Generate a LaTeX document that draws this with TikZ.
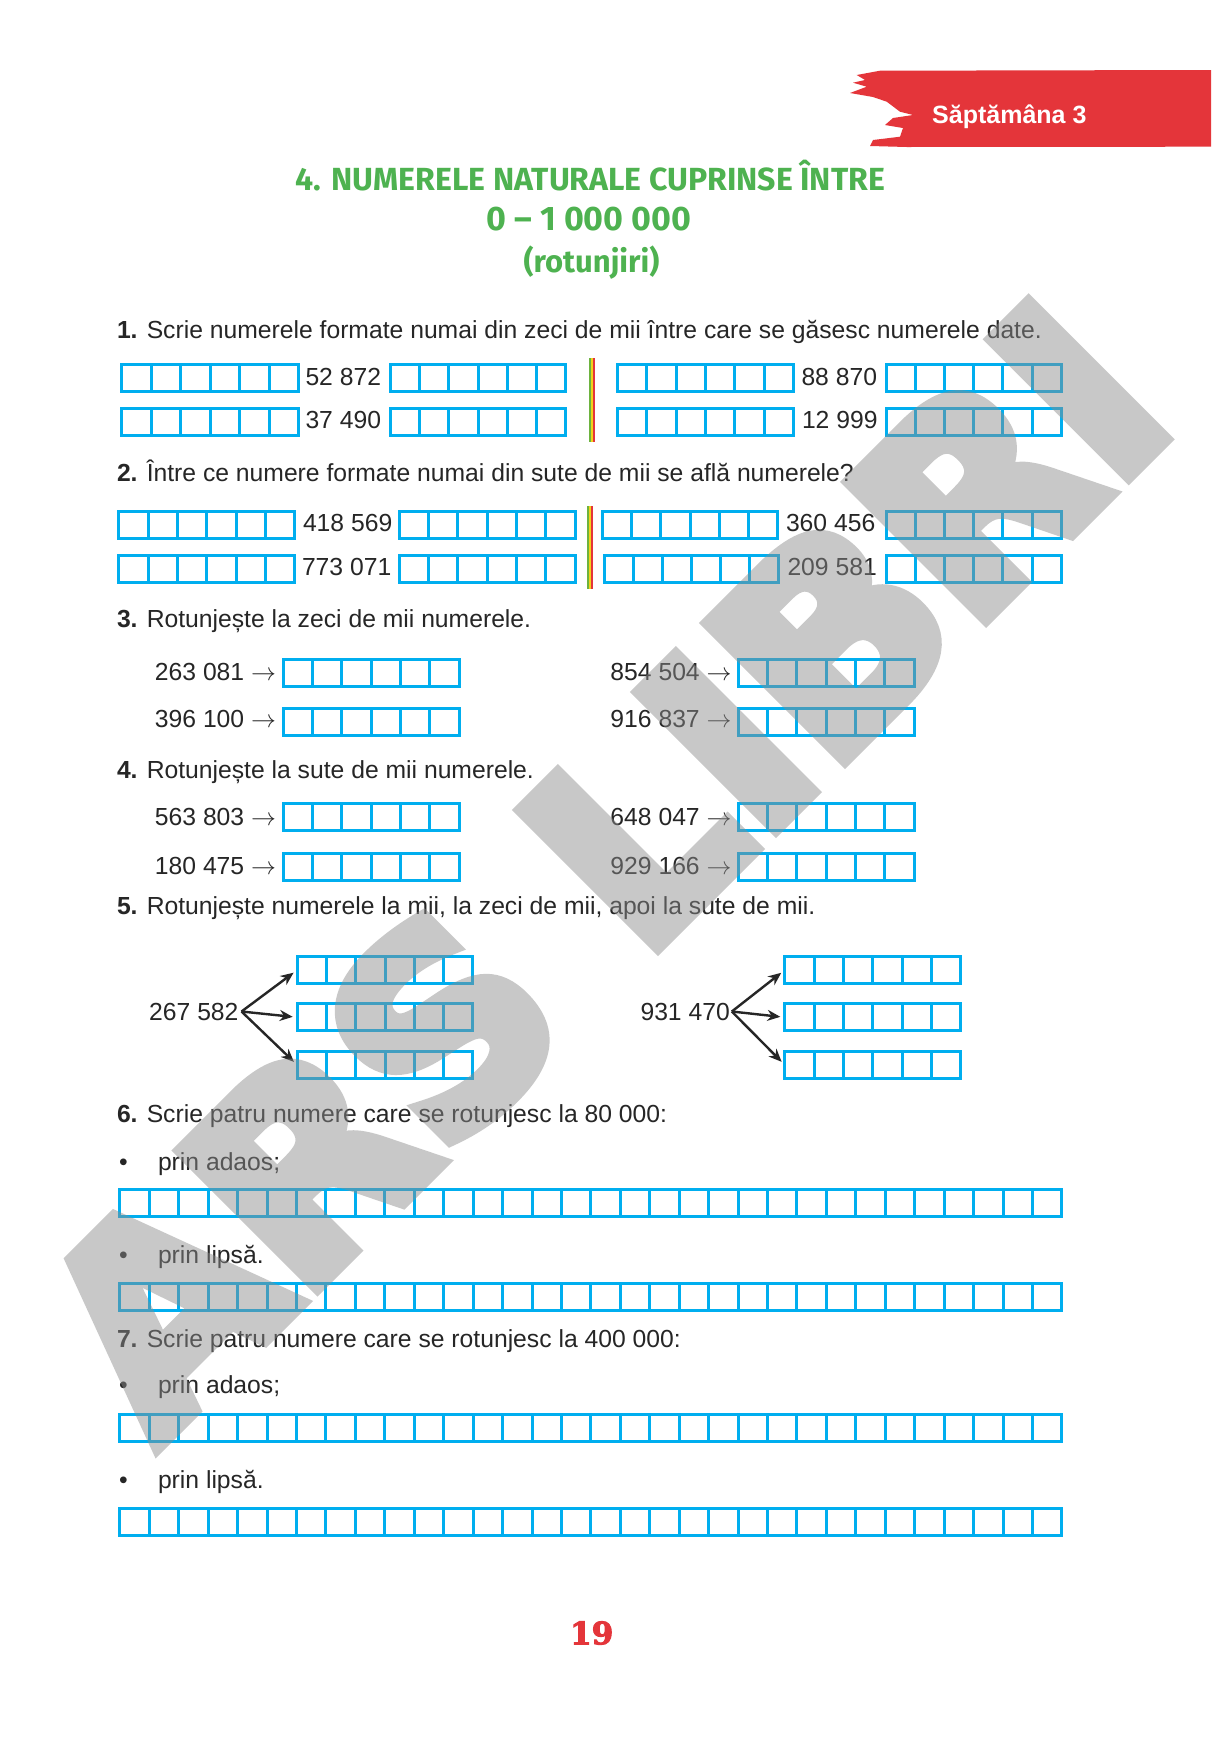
\documentclass[tikz,border=0pt]{standalone}
\usepackage{fontspec}
\setmainfont{Liberation Sans}
\newfontfamily\titlefont{Fira Sans}
\newfontfamily\wmfont{DejaVu Sans Bold}[FakeBold=6]
\newfontfamily\pgfont{DejaVu Serif Bold}[FakeBold=3]
\usetikzlibrary{arrows.meta}
\definecolor{ink}{HTML}{262626}
\definecolor{boxblue}{HTML}{00AEEF}
\definecolor{bannerred}{HTML}{E4353A}
\definecolor{titlegreen}{RGB}{78,178,80}
\definecolor{sepgreen}{HTML}{6DB33F}
\definecolor{sepyellow}{HTML}{F2D21B}
\definecolor{wmgray}{RGB}{140,140,140}
\newcommand\cellrow[5]{\node[cells={#4}{#5}, anchor=north west] (#1) at ({#2+1.5},{#3+1.5}) {};}
\newcommand\sepbar[3]{% x, ytop, ybottom
  \fill[sepgreen] (#1,#2) rectangle ({#1+2},#3);
  \fill[sepyellow] ({#1+2},#2) rectangle ({#1+4},#3);
  \fill[bannerred] ({#1+4},#2) rectangle ({#1+6},#3);}
\begin{document}
\begin{tikzpicture}[x=1pt,y=-1pt,
  txt/.style={font=\fontsize{24.7}{29}\selectfont, text=ink, inner sep=0pt, outer sep=0pt, anchor=base west},
  txtr/.style={txt, anchor=base east},
  cells/.style 2 args={draw=boxblue, line width=3pt, inner sep=0pt, outer sep=0pt,
    minimum height=27pt, minimum width={#2-3},
    path picture={\pgfmathsetmacro\cw{(#2-3)/#1}
      \foreach \k in {2,...,#1}{\draw[boxblue,line width=3pt]
        ([xshift={(\k-1)*\cw}]path picture bounding box.north west) --
        ([xshift={(\k-1)*\cw}]path picture bounding box.south west);}}},
  arr/.style={draw=ink, line width=2.4pt, -{Stealth[length=13pt,width=11pt]}, shorten >=4.5pt},
  titletxt/.style={text=titlegreen, inner sep=0pt, anchor=base},
  bullet/.style={txt}]
\useasboundingbox (0,0) rectangle (1211,1754);
\fill[white] (0,0) rectangle (1211,1754);

% banner
\fill[bannerred] (1211,70) -- (880,70.7) -- (856.7,75) -- (865,80) -- (853,82.7) -- (866.7,86.7)
  -- (850,93) -- (873,97) -- (886.7,101.7) -- (900,111.7) -- (913,115) -- (893,118) -- (885,125)
  -- (903,128) -- (900,136.7) -- (873,140) -- (870,146) -- (906.7,147) -- (1211,146.7) -- cycle;
\node[anchor=base west, inner sep=0pt, text=white, font=\bfseries\fontsize{25}{30}\selectfont] (week) at (932,123) {Săptămâna 3};

% title
\node[titletxt, font=\titlefont\bfseries\fontsize{32}{36}\selectfont] (t1) at (590.4,190) {4. NUMERELE NATURALE CUPRINSE ÎNTRE};
\node[titletxt, font=\titlefont\bfseries\fontsize{34}{40}\selectfont] (t2) at (589,230) {0 – 1 000 000};
\node[titletxt, font=\titlefont\bfseries\fontsize{31}{36}\selectfont] (t3) at (591.5,272) {(rotunjiri)};

% section 1
\node[txt] (h1) at (117,338.5) {\textbf{1.} Scrie numerele formate numai din zeci de mii între care se găsesc numerele date.};
\cellrow{a1}{120}{362.7}{6}{180}
\node[txt] (na) at (305.5,385) {52 872};
\cellrow{a2}{389}{362.7}{6}{178}
\cellrow{a3}{616}{362.7}{6}{179}
\node[txt] (nb) at (801.5,385) {88 870};
\cellrow{a4}{884.6}{362.7}{6}{178.3}
\cellrow{b1}{120}{406.7}{6}{180}
\node[txt] (nc) at (305.5,428) {37 490};
\cellrow{b2}{389}{406.7}{6}{178}
\cellrow{b3}{616}{406.7}{6}{179}
\node[txt] (nd) at (802,428) {12 999};
\cellrow{b4}{884.6}{406.7}{6}{178.3}
\sepbar{589}{358}{442}

% section 2
\node[txt] (h2) at (117,481.7) {\textbf{2.} Între ce numere formate numai din sute de mii se află numerele?};
\cellrow{c1}{117.2}{510}{6}{179}
\node[txt] (ne) at (303,531.7) {418 569};
\cellrow{c2}{397.7}{510}{6}{178.8}
\cellrow{c3}{601}{510}{6}{178}
\node[txt] (nf) at (786,531.7) {360 456};
\cellrow{c4}{884.6}{510}{6}{178.3}
\cellrow{d1}{117.2}{554}{6}{179}
\node[txt] (ng) at (302,575.7) {773 071};
\cellrow{d2}{397.7}{554}{6}{178.8}
\cellrow{d3}{603}{554}{6}{177.4}
\node[txt] (nh) at (787.5,575.7) {209 581};
\cellrow{d4}{884.6}{554}{6}{178.3}
\sepbar{587}{506}{589}

% section 3
\node[txt] (h3) at (117,627.3) {\textbf{3.} Rotunjește la zeci de mii numerele.};
\node[txtr] (ni) at (276,680) {263 081 $\rightarrow$};
\cellrow{e1}{281.6}{658.3}{6}{179}
\node[txtr] (nj) at (731.5,680) {854 504 $\rightarrow$};
\cellrow{e2}{736.8}{658.3}{6}{179}
\node[txtr] (nk) at (276,727.3) {396 100 $\rightarrow$};
\cellrow{f1}{281.6}{706.7}{6}{179}
\node[txtr] (nl) at (731.5,727.3) {916 837 $\rightarrow$};
\cellrow{f2}{736.8}{706.7}{6}{179}

% section 4
\node[txt] (h4) at (117,778.3) {\textbf{4.} Rotunjește la sute de mii numerele.};
\node[txtr] (nm) at (276,825) {563 803 $\rightarrow$};
\cellrow{g1}{281.6}{802.3}{6}{179}
\node[txtr] (nn) at (731.5,825) {648 047 $\rightarrow$};
\cellrow{g2}{736.8}{802.3}{6}{179}
\node[txtr] (no) at (276,874) {180 475 $\rightarrow$};
\cellrow{h1b}{281.6}{851.7}{6}{179}
\node[txtr] (np) at (731.5,874) {929 166 $\rightarrow$};
\cellrow{h2b}{736.8}{851.7}{6}{179}

% section 5
\node[txt] (h5) at (117,914) {\textbf{5.} Rotunjește numerele la mii, la zeci de mii, apoi la sute de mii.};
\node[txtr] (n5a) at (238.5,1020) {267 582};
\cellrow{p1}{295.7}{955}{6}{178.6}
\cellrow{p2}{295.7}{1002.3}{6}{178.6}
\cellrow{p3}{295.7}{1050}{6}{178.6}
\node[txtr] (n5b) at (729.8,1020) {931 470};
\cellrow{q1}{783.3}{955}{6}{179}
\cellrow{q2}{783.3}{1002.3}{6}{179}
\cellrow{q3}{783.3}{1050}{6}{179}
\draw[arr] ([xshift=3pt]n5a.east) -- (p1.west);
\draw[arr] ([xshift=3pt]n5a.east) -- (p2.west);
\draw[arr] ([xshift=3pt]n5a.east) -- (p3.west);
\draw[arr] ([xshift=2pt]n5b.east) -- (q1.west);
\draw[arr] ([xshift=2pt]n5b.east) -- (q2.west);
\draw[arr] ([xshift=2pt]n5b.east) -- (q3.west);

% section 6
\node[txt] (h6) at (117,1122.3) {\textbf{6.} Scrie patru numere care se rotunjesc la 80 000:};
\node[bullet] (b6a) at (119,1170) {•};
\node[txt] (s6a) at (158,1170) {prin adaos;};
\cellrow{r6a}{118.4}{1187.7}{32}{945}
\node[bullet] (b6b) at (119,1263.3) {•};
\node[txt] (s6b) at (158,1263.3) {prin lipsă.};
\cellrow{r6b}{118.4}{1281.7}{32}{945}

% section 7
\node[txt] (h7) at (117,1347.6) {\textbf{7.} Scrie patru numere care se rotunjesc la 400 000:};
\node[bullet] (b7a) at (119,1393.9) {•};
\node[txt] (s7a) at (158,1393.9) {prin adaos;};
\cellrow{r7a}{118.4}{1413}{32}{945}
\node[bullet] (b7b) at (119,1488.3) {•};
\node[txt] (s7b) at (158,1488.3) {prin lipsă.};
\cellrow{r7b}{118.4}{1506.7}{32}{945}

% page number
\node[anchor=base, inner sep=0pt, text=bannerred, font=\pgfont\fontsize{31}{31}\selectfont] (pg) at (591.7,1644.3) {19};

% watermark
\begin{scope}[transparency group, opacity=0.47]
\node[rotate=45, anchor=base west, inner sep=0pt, text=wmgray, font=\wmfont\fontsize{262}{262}\selectfont] (wm) at (157,1446) {ARS LIBRI};
\end{scope}
\end{tikzpicture}
\end{document}
